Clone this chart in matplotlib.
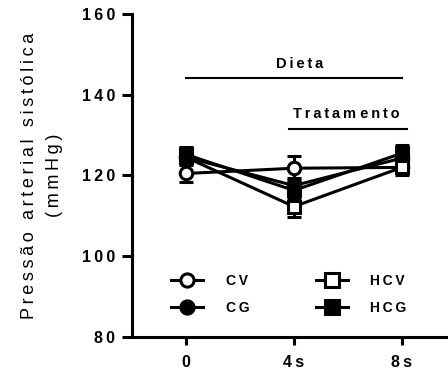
import numpy as np
import matplotlib.pyplot as plt
from matplotlib.lines import Line2D

plt.rcParams["font.family"] = ["Liberation Sans", "DejaVu Sans"]

# time points and group means / SEM
times = ["0", "4s", "8s"]
cv = [120.5, 121.8, 122.0]
cv_err = [2.2, 3.0, 1.5]
cg = [124.5, 117.5, 124.3]
cg_err = [1.5, 2.0, 1.5]
hcv = [124.5, 112.3, 122.0]
hcv_err = [1.5, 2.5, 2.0]
hcg = [125.2, 116.3, 125.5]
hcg_err = [1.8, 2.0, 2.0]

labels = ["CV", "CG", "HCV", "HCG"]
yticks = [80, 100, 120, 140, 160]


def sp(s):
    # GraphPad-style letter spacing
    return "\u2009".join(s)


def main():
    fig = plt.figure(figsize=(4.48, 3.78), dpi=100)
    ax = fig.add_axes([0.295, 0.1085, 0.703, 0.8545])
    x = np.arange(len(times))

    series = [
        (cv, cv_err, "o", "white"),
        (cg, cg_err, "o", "black"),
        (hcv, hcv_err, "s", "white"),
        (hcg, hcg_err, "s", "black"),
    ]
    handles = []
    for (vals, err, mk, fc), lab in zip(series, labels):
        ax.errorbar(
            x, vals, yerr=err, color="black", lw=2.2, marker=mk, ms=9,
            mfc=fc, mec="black", mew=2.2, capsize=5, capthick=2.2,
            elinewidth=2.2,
        )
        handles.append(Line2D([], [], color="black", lw=2.2, marker=mk,
                              ms=9.5, mfc=fc, mec="black", mew=2.2,
                              label=sp(lab)))

    # bars above the data
    ax.plot([0, 2], [144.1, 144.1], color="black", lw=1.5)
    ax.text(1.05, 146.0, sp("Dieta"), ha="center", va="bottom",
            fontsize=10.5, fontweight="bold")
    ax.plot([0.95, 2.05], [131.5, 131.5], color="black", lw=1.5)
    ax.text(1.49, 133.5, sp("Tratam") + " " + sp("ento"),
            ha="center", va="bottom", fontsize=10.5, fontweight="bold")

    ax.set_xlim(-0.5, 2.42)
    ax.set_ylim(80, 160)
    ax.set_yticks(yticks)
    ax.set_yticklabels([sp(str(v)) for v in yticks])
    ax.set_xticks(x)
    ax.set_xticklabels([sp(t) for t in times])
    for lbl in ax.get_xticklabels() + ax.get_yticklabels():
        lbl.set_fontweight("bold")
        lbl.set_fontsize(11.5)
    ax.tick_params(axis="y", length=7, width=2.2, pad=5)
    ax.tick_params(axis="x", length=6, width=2.2, pad=7)
    for s in ["top", "right"]:
        ax.spines[s].set_visible(False)
    for s in ["left", "bottom"]:
        ax.spines[s].set_linewidth(2.2)

    ax.set_ylabel(sp("Pressão arterial sistólica") + "\n" + sp("(mmHg)"),
                  fontsize=13, labelpad=14, linespacing=1.6)

    ax.legend(
        handles=handles, ncol=2, frameon=False, loc="upper left",
        bbox_to_anchor=(0.085, 0.235), handlelength=2.3, columnspacing=4.8,
        handletextpad=1.6, labelspacing=0.95,
        prop={"weight": "bold", "size": 10},
    )

    fig.savefig("out.png", dpi=100)


if __name__ == "__main__":
    main()
